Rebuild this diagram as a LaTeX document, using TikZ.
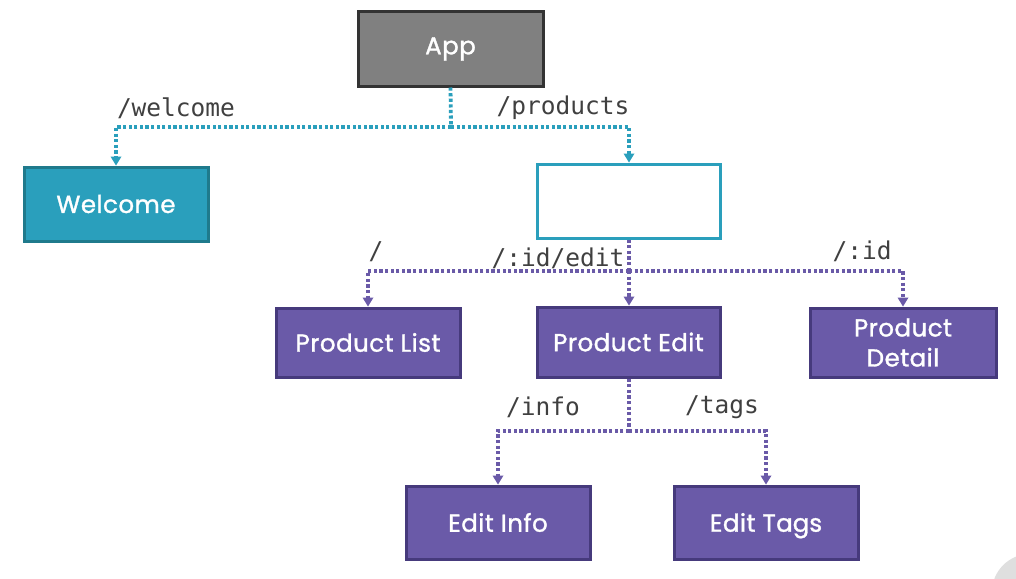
\documentclass[tikz,border=0pt]{standalone}
\usepackage{fontspec}
\usetikzlibrary{arrows.meta}
\newfontfamily\boxfont{Poppins}[FakeBold=1.3, LetterSpace=2]
\newfontfamily\monofont{DejaVu Sans Mono}
\definecolor{appgray}{HTML}{808080}
\definecolor{appborder}{HTML}{333333}
\definecolor{tealfill}{HTML}{2A9FBC}
\definecolor{tealborder}{HTML}{1F7A8C}
\definecolor{purplefill}{HTML}{6A5AA8}
\definecolor{purpleborder}{HTML}{463A7C}
\definecolor{dotpurple}{HTML}{6A5AA8}
\definecolor{labelgray}{HTML}{404040}
\tikzset{
  x=1pt, y=-1pt,
  boxnode/.style={rectangle, inner sep=0pt, line width=3pt, minimum width=184pt, minimum height=72pt,
    font=\boxfont\fontsize{24.5}{30}\selectfont, text=white, align=center},
  appbox/.style={boxnode, fill=appgray, draw=appborder},
  welcomebox/.style={boxnode, fill=tealfill, draw=tealborder},
  emptybox/.style={boxnode, fill=white, draw=tealfill},
  purplebox/.style={boxnode, fill=purplefill, draw=purpleborder},
  dotline/.style={line width=3.8pt, dash pattern=on 3.2pt off 2.4pt},
  tealdot/.style={dotline, draw=tealfill},
  purpdot/.style={dotline, draw=dotpurple},
  tealarrow/.style={tealdot, -{Triangle[width=11pt,length=9pt,fill=tealfill,line width=0pt]}},
  purparrow/.style={purpdot, -{Triangle[width=11pt,length=9pt,fill=dotpurple,line width=0pt]}},
  route/.style={font=\monofont\fontsize{24.5}{26}\selectfont, text=labelgray, inner sep=0pt}
}
\begin{document}
\begin{tikzpicture}
\useasboundingbox[fill=white] (0,0) rectangle (1016,578);
\fill[gray!25] (1030,592) circle (38pt);

\node[appbox, minimum width=185pt, minimum height=74pt] (app) at (450.5,49) {App};
\node[welcomebox, minimum height=74pt] (welcome) at (116,204) {Welcome};
\node[emptybox, minimum width=183pt, minimum height=74pt] (products) at (628.5,201) {};
\node[purplebox, minimum height=69pt] (plist) at (368,342.5) {Product List};
\node[purplebox, minimum width=183pt, minimum height=70pt] (pedit) at (628.5,342) {Product Edit};
\node[purplebox, minimum width=186pt, minimum height=69pt] (pdetail) at (903,342.5) {Product\\Detail};
\node[purplebox, minimum height=73pt] (einfo) at (498,522.5) {Edit Info};
\node[purplebox, minimum height=73pt] (etags) at (766,522.5) {Edit Ta\smash{g}s};

\coordinate (j1) at (451,127);
\coordinate (j2) at (629,271);
\coordinate (j3) at (629,431);

\draw[tealdot] (app.south) -- (j1);
\draw[tealarrow] (j1) -| (welcome.north);
\draw[tealarrow] (j1) -| ([xshift=0.5pt]products.north);

\draw[purpdot] ([xshift=0.5pt]products.south) -- (j2);
\draw[purparrow] (j2) -| (plist.north);
\draw[purparrow] (j2) -- ([xshift=0.5pt]pedit.north);
\draw[purparrow] (j2) -| (pdetail.north);

\draw[purpdot] ([xshift=0.5pt]pedit.south) -- (j3);
\draw[purparrow] (j3) -| (einfo.north);
\draw[purparrow] (j3) -| (etags.north);

\node[route] (lwelcome) at (176,108) {/welcome};
\node[route] (lproducts) at (563,108) {/products};
\node[route] (lroot) at (376,252) {/};
\node[route] (ledit) at (558,258) {/:id/edit};
\node[route] (lid) at (862,251) {/:id};
\node[route] (linfo) at (543,407) {/info};
\node[route] (ltags) at (722,407) {/tags};
\end{tikzpicture}
\end{document}
